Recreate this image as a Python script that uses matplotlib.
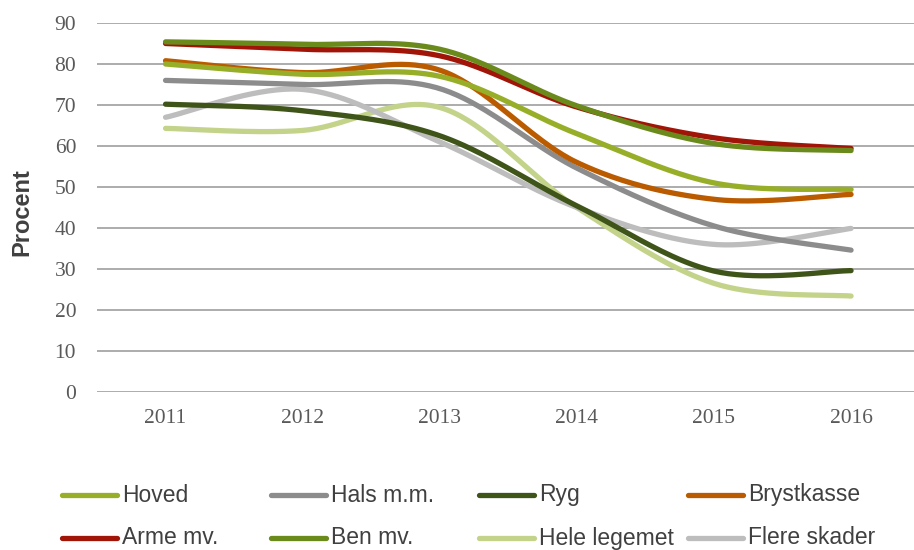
import numpy as np
import matplotlib
matplotlib.use("Agg")
import matplotlib.pyplot as plt
from matplotlib.lines import Line2D

years = ["2011", "2012", "2013", "2014", "2015", "2016"]
hoved = [80.0, 77.5, 77.0, 63.0, 51.0, 49.4]
hals = [76.0, 75.0, 74.0, 54.6, 40.5, 34.6]
ryg = [70.2, 68.6, 62.5, 45.4, 29.5, 29.6]
brystkasse = [80.8, 77.9, 78.5, 56.0, 47.0, 48.2]
arme = [85.0, 83.6, 82.0, 69.5, 62.0, 59.4]
ben = [85.4, 84.8, 83.6, 69.8, 60.6, 58.9]
hele = [64.3, 63.8, 69.4, 45.0, 26.5, 23.4]
flere = [67.0, 73.8, 61.0, 45.0, 36.0, 39.9]

labels = ["Hoved", "Hals m.m.", "Ryg", "Brystkasse",
          "Arme mv.", "Ben mv.", "Hele legemet", "Flere skader"]
series = [hoved, hals, ryg, brystkasse, arme, ben, hele, flere]
colors = ["#97AE28", "#8C8C8C", "#3F5419", "#BA5B00",
          "#A11509", "#6A8A1B", "#C3D38A", "#BDBDBD"]
# drawing order (back to front)
order = [6, 7, 2, 1, 3, 0, 4, 5]


def smooth(y, n=40):
    y = np.asarray(y, float)
    x = np.arange(len(y), dtype=float)
    P = np.column_stack([x, y])
    out = []
    for i in range(len(P) - 1):
        p0 = P[max(i - 1, 0)]
        p1 = P[i]
        p2 = P[i + 1]
        p3 = P[min(i + 2, len(P) - 1)]
        c1 = p1 + (p2 - p0) / 6.0
        c2 = p2 - (p3 - p1) / 6.0
        t = np.linspace(0, 1, n)[:, None]
        seg = ((1 - t) ** 3) * p1 + 3 * ((1 - t) ** 2) * t * c1 + 3 * (1 - t) * t ** 2 * c2 + t ** 3 * p2
        if i > 0:
            seg = seg[1:]
        out.append(seg)
    s = np.vstack(out)
    return s[:, 0], s[:, 1]


fig = plt.figure(figsize=(9.14, 5.5), dpi=100)
ax = fig.add_axes([97 / 914, 1 - 392 / 550, (919.6 - 97) / 914, (392 - 23) / 550])

for i in order:
    xs, ys = smooth(series[i])
    ax.plot(xs, ys, color=colors[i], lw=3.8, solid_capstyle="round", zorder=3)

ax.set_xlim(-0.5, 5.5)
ax.set_ylim(0, 90)
ax.set_yticks(range(0, 91, 10))
ax.set_xticks(range(len(years)))
ax.set_xticklabels(years)
ax.grid(axis="y", color="#A6A6A6", lw=1.3)
ax.set_axisbelow(True)
for s in ax.spines.values():
    s.set_visible(False)
ax.tick_params(axis="both", length=0, labelsize=15.5, labelcolor="#595959")
ax.tick_params(axis="x", pad=12)
ax.tick_params(axis="y", pad=15)
for t in ax.get_xticklabels() + ax.get_yticklabels():
    t.set_fontfamily("Liberation Serif")
ax.set_ylabel("Procent", fontsize=17, fontweight="bold", color="#404040",
              fontfamily="Liberation Sans")
ax.yaxis.set_label_coords((22 - 97) / 822.6, (392 - 212) / 369)
ax.yaxis.label.set_va("center")

# legend
col_x = [62, 271, 479, 688]
row_y = [495, 538]
for k in range(8):
    r, c = divmod(k, 4)
    x0 = col_x[c]
    y0 = row_y[r]
    fig.add_artist(Line2D([x0 / 914, (x0 + 55) / 914], [1 - y0 / 550, 1 - y0 / 550],
                          color=colors[k], lw=3.8, solid_capstyle="round",
                          transform=fig.transFigure))
    fig.text((x0 + 60) / 914, 1 - y0 / 550, labels[k], fontsize=16.5,
             fontfamily="Liberation Sans", color="#404040", va="center", ha="left")

fig.savefig("out.png", dpi=100)
